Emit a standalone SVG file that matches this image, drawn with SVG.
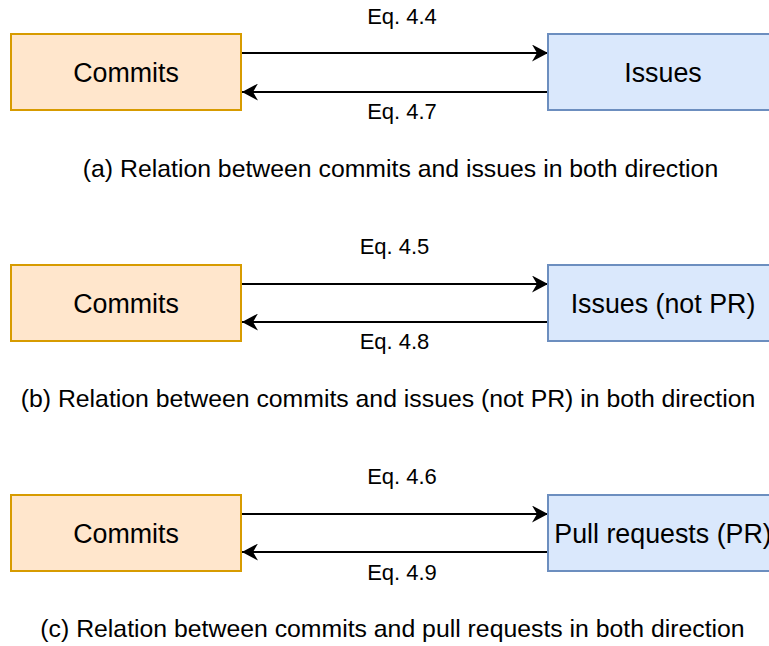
<svg xmlns="http://www.w3.org/2000/svg" width="769" height="646" viewBox="0 0 769 646">
<style>
.c{fill:#ffe6cc;stroke:#d79b00;stroke-width:2}
.i{fill:#dae8fc;stroke:#6c8ebf;stroke-width:2}
.t{font-family:"Liberation Sans",Arial,sans-serif;fill:#000;text-anchor:middle}
.bl{font-size:26.8px}
.eq{font-size:22px}
.cap{font-size:24.8px}
.ln{stroke:#000;stroke-width:2;fill:none}
</style>
<defs>
<marker id="ah" viewBox="0 0 16 17" refX="16" refY="8.5" markerWidth="16" markerHeight="17" markerUnits="userSpaceOnUse" orient="auto">
<path d="M0,0 L16,8.5 L0,17 L5,8.5 Z" fill="#000"/>
</marker>
</defs>
<g id="connectors">
<path class="ln" d="M242,53 L548,53" marker-end="url(#ah)"/>
<path class="ln" d="M548,92 L242,92" marker-end="url(#ah)"/>
<path class="ln" d="M242,284 L548,284" marker-end="url(#ah)"/>
<path class="ln" d="M548,322 L242,322" marker-end="url(#ah)"/>
<path class="ln" d="M242,514 L548,514" marker-end="url(#ah)"/>
<path class="ln" d="M548,552 L242,552" marker-end="url(#ah)"/>
<text class="t eq" x="402" y="24">Eq. 4.4</text>
<text class="t eq" x="402" y="119">Eq. 4.7</text>
<text class="t eq" x="394.5" y="254">Eq. 4.5</text>
<text class="t eq" x="394.5" y="349">Eq. 4.8</text>
<text class="t eq" x="402" y="484">Eq. 4.6</text>
<text class="t eq" x="402" y="580">Eq. 4.9</text>
</g>
<g id="commits-a"><rect class="c" x="11" y="34" width="230" height="76"/><text class="t bl" x="126" y="82">Commits</text></g>
<g id="issues-a"><rect class="i" x="548" y="34" width="230" height="76"/><text class="t bl" x="663" y="82">Issues</text></g>
<g id="commits-b"><rect class="c" x="11" y="265" width="230" height="76"/><text class="t bl" x="126" y="313">Commits</text></g>
<g id="issues-b"><rect class="i" x="548" y="265" width="230" height="76"/><text class="t bl" x="663" y="313">Issues (not PR)</text></g>
<g id="commits-c"><rect class="c" x="11" y="495" width="230" height="76"/><text class="t bl" x="126" y="543">Commits</text></g>
<g id="pr-c"><rect class="i" x="548" y="495" width="230" height="76"/><text class="t bl" x="663" y="543">Pull requests (PR)</text></g>
<text class="t cap" x="400.5" y="177">(a) Relation between commits and issues in both direction</text>
<text class="t cap" x="388" y="407">(b) Relation between commits and issues (not PR) in both direction</text>
<text class="t cap" x="392.5" y="637">(c) Relation between commits and pull requests in both direction</text>
</svg>
